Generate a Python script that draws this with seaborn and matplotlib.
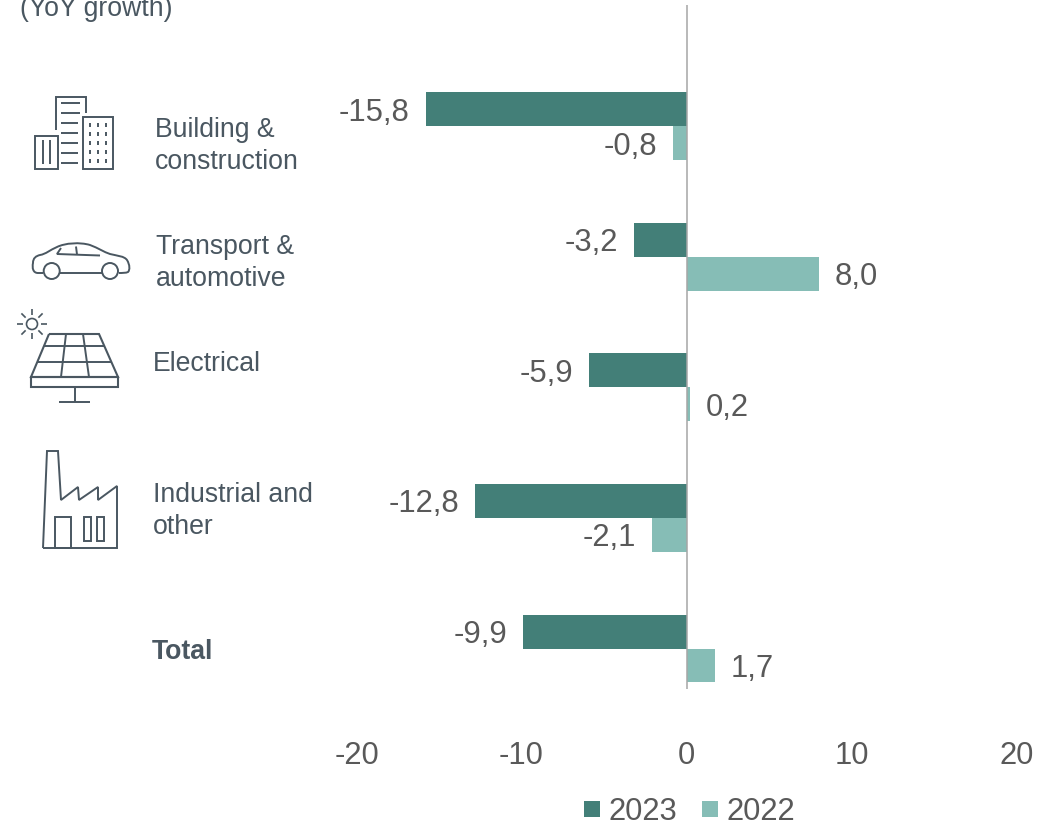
import matplotlib
matplotlib.use("Agg")
import matplotlib.pyplot as plt
from matplotlib.patches import Circle, PathPatch, Rectangle
from matplotlib.path import Path
import numpy as np
import pandas as pd
import seaborn as sns

sectors = ["Building & construction", "Transport & automotive", "Electrical",
           "Industrial and other", "Total"]
growth_2023 = [-15.8, -3.2, -5.9, -12.8, -9.9]
growth_2022 = [-0.8, 8.0, 0.2, -2.1, 1.7]
years = ["2023", "2022"]
x_ticks = [-20, -10, 0, 10, 20]

DARK = "#437F78"
LIGHT = "#86BDB6"
SLATE = "#4A5761"
GREY = "#595959"
NUM_SIZE = 22.3

sns.set_theme(style="white")
plt.rcParams["font.family"] = ["Liberation Sans", "DejaVu Sans"]

W, H = 1058, 824
fig = plt.figure(figsize=(W / 100, H / 100), dpi=100, facecolor="white")
ax = fig.add_axes([356.5 / W, 1 - 689 / H, 660 / W, 684 / H])

table = pd.DataFrame({
    "sector": sectors * 2,
    "year": [years[0]] * len(sectors) + [years[1]] * len(sectors),
    "growth": growth_2023 + growth_2022,
})
sns.barplot(data=table, x="growth", y="sector", hue="year", order=sectors,
            hue_order=years, palette=[DARK, LIGHT], orient="h", width=0.52,
            gap=0, saturation=1, ax=ax, linewidth=0)

ax.set_xlim(-20, 20)
ax.set_ylim(4.31, -0.926)
ax.set_xlabel("")
ax.set_ylabel("")
ax.set_yticks([])
ax.set_xticks(x_ticks, [str(t) for t in x_ticks])
ax.tick_params(axis="x", length=0, pad=37.5, labelsize=NUM_SIZE, labelcolor=GREY)
sns.despine(ax=ax, left=True, bottom=True)
ax.axvline(0, color="#A6A6A6", lw=1.1, zorder=5)

# decimal comma on the value labels, nudged down so the digits sit on the bar centre
for bars in ax.containers:
    texts = ax.bar_label(bars, fmt=lambda v: f"{v:.1f}".replace(".", ","), padding=11.5,
                         fontsize=NUM_SIZE, color=GREY)
    for t in texts:
        dx, dy = t.xyann
        t.xyann = (dx, dy - 2.6)

handles, labels = ax.get_legend_handles_labels()
ax.legend(handles, labels, loc="center", bbox_to_anchor=(689.5 / W, 1 - 812 / H),
          bbox_transform=fig.transFigure, ncol=2, frameon=False, fontsize=NUM_SIZE,
          labelcolor=GREY, handlelength=0.52, handleheight=0.42, handletextpad=0.27,
          columnspacing=0.8, borderpad=0, borderaxespad=0)

# Pixel-based overlay for the row captions and pictograms
ov = fig.add_axes([0, 0, 1, 1], facecolor="none")
ov.set_xlim(0, W)
ov.set_ylim(H, 0)
ov.axis("off")

caption = dict(fontsize=19.2, color=SLATE, va="center", ha="left", linespacing=1.3)
ov.text(20, 9, "(YoY growth)", **caption)
ov.text(155, 146, "Building &\nconstruction", **caption)
ov.text(156, 263, "Transport &\nautomotive", **caption)
ov.text(153, 364, "Electrical", **caption)
ov.text(153, 511, "Industrial and\nother", **caption)
ov.text(152, 652, "Total", fontweight="bold", **caption)


def stroke(xs, ys, lw=1.4, **kw):
    ov.plot(xs, ys, color=SLATE, lw=lw, solid_capstyle="butt",
            solid_joinstyle="miter", **kw)


def box(x0, y0, x1, y1, lw=1.4):
    ov.add_patch(Rectangle((x0, y0), x1 - x0, y1 - y0, fill=False, ec=SLATE, lw=lw))


# Building pictogram
stroke([56, 56, 86, 86], [130, 97, 97, 113])
box(83, 117, 113, 169)
box(35, 136, 58, 169)
for y, x_end in zip([103, 113, 123, 133, 143, 153, 163], [80, 80, 78, 78, 78, 78, 78]):
    stroke([61, x_end], [y, y])
for x in [43, 50]:
    stroke([x, x], [140, 164])
for x in [90, 98, 106]:
    for y in [123, 132, 141, 150, 159]:
        stroke([x, x], [y, y + 4])

# Car pictogram
body = [(43, 273), (38, 273), (33, 273), (32, 268), (33, 263), (33, 258), (36, 256), (40, 255),
        (46, 254), (50, 250), (57, 247), (65, 243), (80, 242), (90, 245), (98, 248), (104, 252),
        (110, 254), (118, 256), (124, 256), (127, 260), (130, 265), (130, 270), (128, 272),
        (126, 273), (122, 273), (119, 273)]
codes = [Path.MOVETO, Path.LINETO] + [Path.CURVE4] * (len(body) - 2)
ov.add_patch(PathPatch(Path(body, codes), fill=False, ec=SLATE, lw=1.4))
stroke([60, 102], [273, 273])
for cx in [51.7, 110]:
    ov.add_patch(Circle((cx, 271), 8, fill=False, ec=SLATE, lw=1.4))
stroke([61, 57, 100], [248, 254, 255.5])
stroke([76, 77], [246.5, 254.5])

# Solar panel pictogram
ov.add_patch(Circle((32, 324), 5.5, fill=False, ec=SLATE, lw=1.2))
for angle in np.radians(np.arange(0, 360, 45)):
    stroke([32 + 9 * np.cos(angle), 32 + 15 * np.cos(angle)],
           [324 + 9 * np.sin(angle), 324 + 15 * np.sin(angle)], lw=1.2)
stroke([49, 99, 118, 31, 49], [334, 334, 377, 377, 334], lw=1.5)
box(31, 377, 118, 387, lw=1.5)
stroke([44, 104], [346, 346])
stroke([38, 111], [362, 362])
stroke([66, 61], [334, 377])
stroke([83, 89], [334, 377])
stroke([75, 75], [387, 402])
stroke([59, 90], [402, 402])

# Factory pictogram
stroke([43, 47, 58, 61, 78, 79, 98, 98, 117, 117, 43],
       [548, 451, 451, 500, 487, 500, 487, 500, 486, 548, 548])
box(55, 517, 71, 548)
box(84, 517, 91, 541)
box(97, 517, 104, 541)

fig.savefig("out.png", dpi=100)
